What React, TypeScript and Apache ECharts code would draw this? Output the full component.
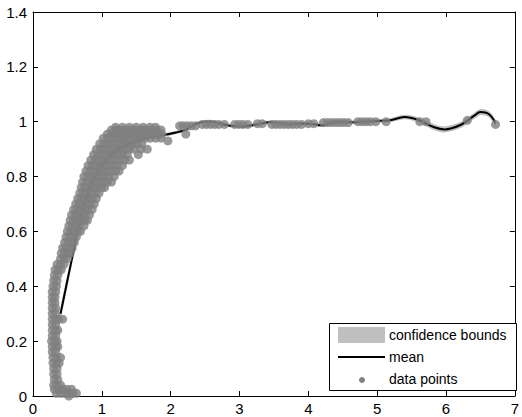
import React, { useEffect, useRef } from "react";
import * as echarts from "echarts";

// ---- data ----
const meanX = [0.40, 0.557, 0.65, 0.75, 0.90, 1.10, 1.30, 1.50, 1.70, 1.91, 2.10, 2.22, 2.35, 2.50, 2.60, 2.77, 2.90, 3.06, 3.25, 3.44, 3.72, 4.00, 4.21, 4.40, 4.68, 4.97, 5.16, 5.40, 5.59, 5.83, 5.98, 6.21, 6.41, 6.50, 6.62, 6.72];
const meanY = [0.30, 0.49, 0.60, 0.70, 0.80, 0.87, 0.91, 0.93, 0.945, 0.952, 0.962, 0.97, 0.99, 1.0, 1.0, 0.99, 0.984, 0.983, 0.99, 0.998, 0.992, 0.993, 0.987, 1.0, 0.998, 1.003, 1.004, 1.017, 1.007, 0.98, 0.972, 0.988, 1.022, 1.035, 1.028, 0.995];
const boundLower = [0.28, 0.47, 0.58, 0.68, 0.78, 0.855, 0.898, 0.92, 0.937, 0.946, 0.956, 0.964, 0.984, 0.994, 0.994, 0.984, 0.978, 0.977, 0.984, 0.992, 0.986, 0.987, 0.981, 0.994, 0.992, 0.997, 0.997, 1.009, 0.998, 0.969, 0.961, 0.977, 1.011, 1.024, 1.017, 0.984];
const boundUpper = [0.32, 0.51, 0.62, 0.72, 0.82, 0.885, 0.922, 0.94, 0.953, 0.958, 0.968, 0.976, 0.996, 1.006, 1.006, 0.996, 0.99, 0.989, 0.996, 1.004, 0.998, 0.999, 0.993, 1.006, 1.004, 1.009, 1.011, 1.025, 1.016, 0.991, 0.983, 0.999, 1.033, 1.046, 1.039, 1.006];

// data points, grouped in rows: [y, x values]
const pointRows: [number, number[]][] = [
  [0.0, [0.52]],
  [0.01, [0.34, 0.40, 0.46, 0.52, 0.58, 0.63]],
  [0.025, [0.31, 0.37, 0.43, 0.49, 0.56]],
  [0.04, [0.30, 0.35, 0.40]],
  [0.06, [0.31, 0.36]],
  [0.08, [0.30, 0.35]],
  [0.10, [0.30, 0.35]],
  [0.12, [0.29, 0.34, 0.38]],
  [0.14, [0.29, 0.34, 0.40]],
  [0.16, [0.28, 0.33]],
  [0.18, [0.28, 0.33, 0.36]],
  [0.20, [0.27, 0.32, 0.35]],
  [0.22, [0.28, 0.33]],
  [0.24, [0.28, 0.33, 0.36]],
  [0.26, [0.28, 0.33]],
  [0.28, [0.28, 0.33, 0.37, 0.43]],
  [0.30, [0.28, 0.33]],
  [0.32, [0.28, 0.33]],
  [0.34, [0.28, 0.32]],
  [0.36, [0.28, 0.32]],
  [0.38, [0.28, 0.33]],
  [0.40, [0.29, 0.34]],
  [0.42, [0.30, 0.35]],
  [0.44, [0.31, 0.36]],
  [0.46, [0.32, 0.37, 0.41]],
  [0.48, [0.35, 0.40, 0.45]],
  [0.50, [0.40, 0.45, 0.50]],
  [0.52, [0.41, 0.46, 0.51, 0.54]],
  [0.54, [0.43, 0.48, 0.53, 0.57]],
  [0.56, [0.46, 0.51, 0.56, 0.60]],
  [0.58, [0.48, 0.53, 0.58, 0.63]],
  [0.60, [0.50, 0.55, 0.60, 0.65, 0.69]],
  [0.62, [0.52, 0.57, 0.62, 0.67, 0.74]],
  [0.64, [0.54, 0.59, 0.64, 0.69, 0.75, 0.79]],
  [0.66, [0.56, 0.61, 0.66, 0.71, 0.76, 0.82]],
  [0.68, [0.59, 0.64, 0.69, 0.74, 0.79, 0.86]],
  [0.70, [0.62, 0.67, 0.72, 0.77, 0.83, 0.89]],
  [0.72, [0.65, 0.70, 0.75, 0.80, 0.86, 0.92]],
  [0.74, [0.68, 0.73, 0.78, 0.84, 0.90, 0.96]],
  [0.76, [0.70, 0.76, 0.82, 0.88, 0.94, 1.00, 1.04]],
  [0.78, [0.72, 0.78, 0.84, 0.90, 0.96, 1.02, 1.08, 1.14]],
  [0.80, [0.74, 0.80, 0.86, 0.92, 0.98, 1.04, 1.10, 1.18]],
  [0.82, [0.77, 0.83, 0.89, 0.95, 1.01, 1.07, 1.13, 1.20, 1.25]],
  [0.84, [0.80, 0.86, 0.92, 0.98, 1.04, 1.10, 1.16, 1.22, 1.30]],
  [0.86, [0.84, 0.90, 0.96, 1.02, 1.08, 1.14, 1.20, 1.26, 1.33, 1.40]],
  [0.88, [0.88, 0.94, 1.00, 1.06, 1.12, 1.18, 1.24, 1.30, 1.37, 1.53]],
  [0.90, [0.92, 0.98, 1.04, 1.10, 1.16, 1.22, 1.28, 1.34, 1.40, 1.47, 1.57, 1.66]],
  [0.92, [0.97, 1.03, 1.09, 1.15, 1.21, 1.27, 1.33, 1.39, 1.45, 1.51, 1.58]],
  [0.93, [1.96]],
  [0.94, [1.02, 1.08, 1.14, 1.20, 1.26, 1.32, 1.38, 1.44, 1.50, 1.56, 1.63, 1.70, 1.78, 1.86]],
  [0.955, [1.08, 1.14, 1.20, 1.26, 1.32, 1.38, 1.44, 1.50, 1.56, 1.62, 1.68, 1.74, 1.80, 1.87, 2.22]],
  [0.97, [1.14, 1.20, 1.26, 1.32, 1.38, 1.44, 1.50, 1.56, 1.62, 1.68, 1.74, 1.80, 1.86]],
  [0.98, [1.20, 1.30, 1.40, 1.50, 1.60, 1.70, 1.78]],
  [0.985, [2.13, 2.18, 2.24, 2.30, 2.36]],
  [0.99, [2.46, 2.52, 2.58, 2.64, 2.70, 2.78, 2.93, 2.99, 3.05, 3.12, 3.47, 3.53, 3.59, 3.65, 3.71, 3.77, 3.83, 3.90, 6.72]],
  [0.993, [3.26, 3.33, 4.00, 4.08]],
  [0.997, [4.22, 4.28, 4.34, 4.40, 4.46, 4.52, 4.58]],
  [1.0, [4.72, 4.78, 4.84, 4.90, 4.98, 5.13, 5.62, 5.71]],
  [1.005, [6.31]],
];

const xTickLabels = ["0", "1", "2", "3", "4", "5", "6", "7"];
const legendLabels = ["confidence bounds", "mean", "data points"];

const FONT = '"Liberation Sans", Arial, sans-serif';
const POINT_COLOR = "#808080";
const BOUND_COLOR = "#c0c0c0";

export default function App() {
  const ref = useRef<HTMLDivElement>(null);

  useEffect(() => {
    if (!ref.current) return;
    const chart = echarts.init(ref.current, undefined, { renderer: "svg" });

    const points: [number, number][] = [];
    pointRows.forEach(([y, xs]) => xs.forEach((x) => points.push([x, y])));
    const meanData = meanX.map((x, i) => [x, meanY[i]]);
    const bandData = meanX.map((x, i) => [x, boundLower[i], boundUpper[i]]);

    const tick = { show: true, inside: true, length: 5, lineStyle: { color: "#000", width: 1 } };
    const line = { show: true, onZero: false, lineStyle: { color: "#000", width: 1 } };

    chart.setOption({
      animation: false,
      backgroundColor: "#fff",
      grid: { left: 33, top: 12, width: 488, height: 384, containLabel: false },
      xAxis: [
        {
          type: "value", min: 0, max: 7, interval: 1, position: "bottom",
          axisLine: line, axisTick: tick, splitLine: { show: false },
          axisLabel: {
            color: "#000", fontFamily: FONT, fontSize: 15, margin: 5,
            formatter: (v: number) => xTickLabels[Math.round(v)] ?? String(v),
          },
        },
        {
          type: "value", min: 0, max: 7, interval: 1, position: "top",
          axisLine: line, axisTick: tick, splitLine: { show: false }, axisLabel: { show: false },
        },
      ],
      yAxis: [
        {
          type: "value", min: 0, max: 1.4, interval: 0.2, position: "left",
          axisLine: line, axisTick: tick, splitLine: { show: false },
          axisLabel: { color: "#000", fontFamily: FONT, fontSize: 15, margin: 6 },
        },
        {
          type: "value", min: 0, max: 1.4, interval: 0.2, position: "right",
          axisLine: line, axisTick: tick, splitLine: { show: false }, axisLabel: { show: false },
        },
      ],
      series: [
        {
          name: legendLabels[0], type: "custom", data: bandData, z: 1, silent: true,
          encode: { x: 0, y: [1, 2] },
          renderItem: (params: any, api: any) => {
            if (params.dataIndex !== 0) return null;
            const up = bandData.map((d) => api.coord([d[0], d[2]]));
            const lo = bandData.map((d) => api.coord([d[0], d[1]])).reverse();
            return {
              type: "polygon",
              shape: { points: up.concat(lo), smooth: 0.3 },
              style: { fill: BOUND_COLOR, stroke: "none" },
            };
          },
        },
        {
          name: legendLabels[1], type: "line", data: meanData, smooth: 0.4,
          symbol: "none", lineStyle: { color: "#000", width: 2 }, z: 2,
        },
        {
          name: legendLabels[2], type: "scatter", data: points, symbol: "circle", symbolSize: 9,
          itemStyle: { color: POINT_COLOR }, z: 3,
        },
      ],
      graphic: [
        { type: "rect", z: 100, shape: { x: 329.5, y: 323.5, width: 187, height: 67 }, style: { fill: "#fff", stroke: "#000", lineWidth: 1 } },
        { type: "rect", z: 101, shape: { x: 338, y: 327, width: 47, height: 16 }, style: { fill: BOUND_COLOR } },
        { type: "line", z: 101, shape: { x1: 338, y1: 357, x2: 385, y2: 357 }, style: { stroke: "#000", lineWidth: 2 } },
        { type: "circle", z: 101, shape: { cx: 362, cy: 380, r: 3 }, style: { fill: POINT_COLOR } },
        { type: "text", z: 101, x: 389, y: 335, style: { text: legendLabels[0], font: `14px ${FONT}`, fill: "#000", verticalAlign: "middle" } },
        { type: "text", z: 101, x: 389, y: 357, style: { text: legendLabels[1], font: `14px ${FONT}`, fill: "#000", verticalAlign: "middle" } },
        { type: "text", z: 101, x: 389, y: 379, style: { text: legendLabels[2], font: `14px ${FONT}`, fill: "#000", verticalAlign: "middle" } },
      ],
    });

    return () => chart.dispose();
  }, []);

  return (
    <div
      ref={ref}
      style={{ position: "fixed", left: 0, top: 0, width: 522, height: 417, background: "#fff" }}
    />
  );
}
